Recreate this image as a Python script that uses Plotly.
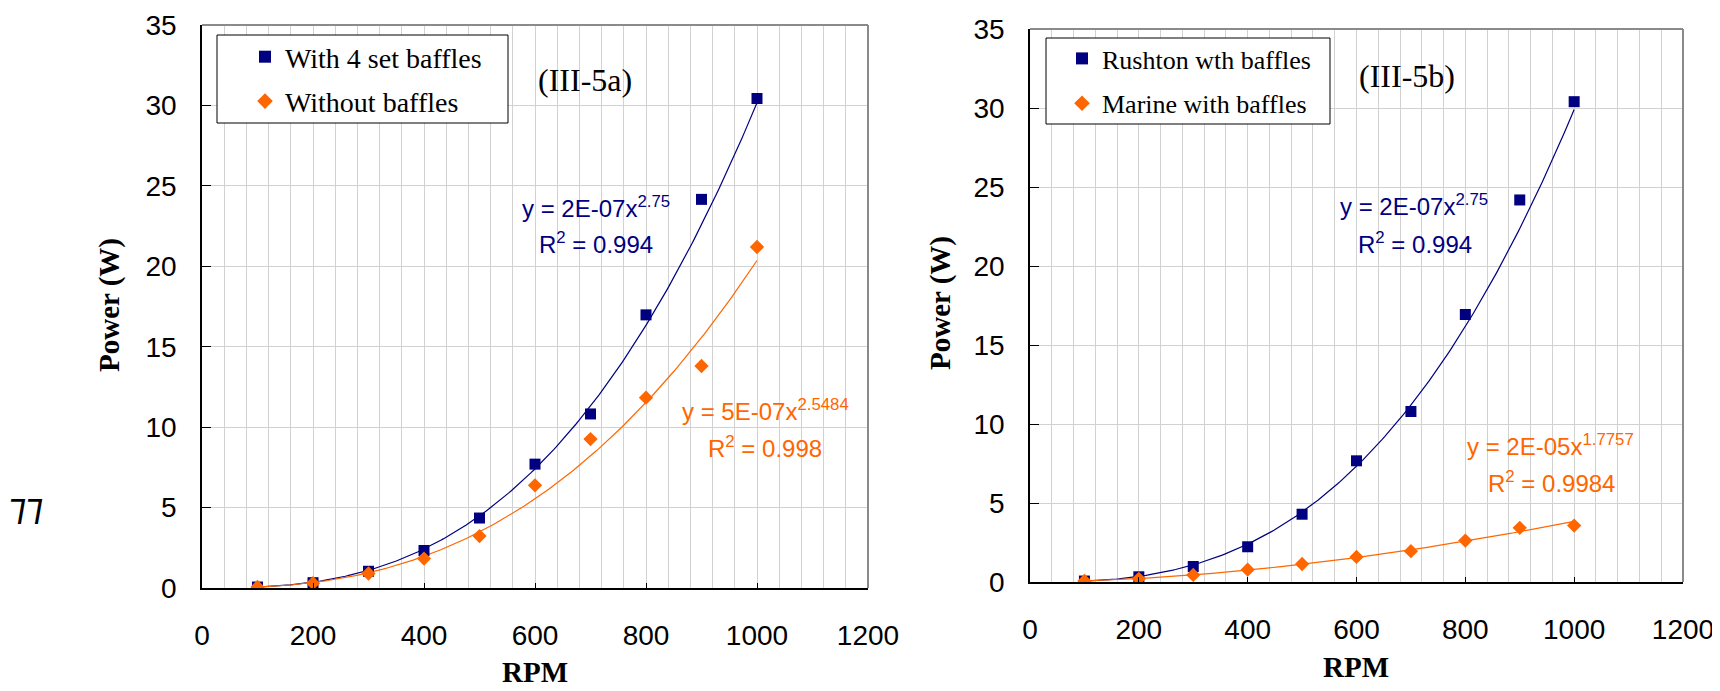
import numpy as np
import plotly.graph_objects as go

# page body adds an 8px offset; size the figure so it fills the 1720x691 window exactly
OFF = 8
FW, FH = 1720 - OFF, 691 - OFF

# ---------------- data ----------------
rpm = [100, 200, 300, 400, 500, 600, 700, 800, 900, 1000]

# panel (III-5a)
with_4_set_baffles = [0.06, 0.33, 1.04, 2.33, 4.35, 7.70, 10.82, 16.98, 24.16, 30.43]
without_baffles = [0.065, 0.30, 0.90, 1.83, 3.23, 6.38, 9.26, 11.83, 13.80, 21.20]

# panel (III-5b)
rushton_with_baffles = [0.06, 0.33, 0.98, 2.23, 4.29, 7.67, 10.79, 16.93, 24.18, 30.40]
marine_with_baffles = [0.067, 0.20, 0.45, 0.78, 1.14, 1.59, 1.95, 2.62, 3.43, 3.57]

names_a = ["With 4 set baffles", "Without baffles"]
names_b = ["Rushton wth baffles", "Marine with baffles"]
panel_labels = ["(III-5a)", "(III-5b)"]
eq_a = ["y = 2E-07x<sup>2.75</sup>", "y = 5E-07x<sup>2.5484</sup>"]
r2_a = ["R<sup>2</sup> = 0.994", "R<sup>2</sup> = 0.998"]
eq_b = ["y = 2E-07x<sup>2.75</sup>", "y = 2E-05x<sup>1.7757</sup>"]
r2_b = ["R<sup>2</sup> = 0.994", "R<sup>2</sup> = 0.9984"]

x_ticks = [0, 200, 400, 600, 800, 1000, 1200]
y_ticks = [0, 5, 10, 15, 20, 25, 30, 35]

NAVY = "#000080"
ORANGE = "#FF6600"
SANS = "Liberation Sans, Arial, sans-serif"
SERIF = "Liberation Serif, Times New Roman, serif"


def px(x):
    return (x - OFF) / FW


def py(y):
    return 1 - (y - OFF) / FH


def power_fit(x, y):
    b, ln_a = np.polyfit(np.log(x), np.log(y), 1)
    xs = np.linspace(min(x), max(x), 200)
    return xs, np.exp(ln_a) * xs ** b


fig = go.Figure()

# ---- panel a ----
for yvals, color in [(with_4_set_baffles, NAVY), (without_baffles, ORANGE)]:
    xs, ys = power_fit(rpm, yvals)
    fig.add_trace(go.Scatter(x=xs, y=ys, mode="lines", line=dict(color=color, width=1.2),
                             showlegend=False, hoverinfo="skip", xaxis="x", yaxis="y"))
fig.add_trace(go.Scatter(x=rpm, y=with_4_set_baffles, mode="markers", name=names_a[0],
                         marker=dict(symbol="square", size=11, color=NAVY),
                         xaxis="x", yaxis="y", legend="legend", legendgroup="a1"))
fig.add_trace(go.Scatter(x=rpm, y=without_baffles, mode="markers", name=names_a[1],
                         marker=dict(symbol="diamond", size=11, color=ORANGE),
                         xaxis="x", yaxis="y", legend="legend", legendgroup="a2"))

# ---- panel b ----
for yvals, color in [(rushton_with_baffles, NAVY), (marine_with_baffles, ORANGE)]:
    xs, ys = power_fit(rpm, yvals)
    fig.add_trace(go.Scatter(x=xs, y=ys, mode="lines", line=dict(color=color, width=1.2),
                             showlegend=False, hoverinfo="skip", xaxis="x2", yaxis="y2"))
fig.add_trace(go.Scatter(x=rpm, y=rushton_with_baffles, mode="markers", name=names_b[0],
                         marker=dict(symbol="square", size=11, color=NAVY),
                         xaxis="x2", yaxis="y2", legend="legend2", legendgroup="b1"))
fig.add_trace(go.Scatter(x=rpm, y=marine_with_baffles, mode="markers", name=names_b[1],
                         marker=dict(symbol="diamond", size=11, color=ORANGE),
                         xaxis="x2", yaxis="y2", legend="legend2", legendgroup="b2"))

GRID = "#d2d2d2"


def xaxis_cfg(domain, anchor):
    return dict(domain=domain, anchor=anchor, range=[0, 1200], tickvals=x_ticks,
                showgrid=True, gridcolor=GRID, gridwidth=1,
                minor=dict(dtick=40, tick0=0, showgrid=True, gridcolor=GRID, gridwidth=1),
                showline=True, linecolor="black", linewidth=1.5,
                ticks="inside", ticklen=5, tickcolor="black",
                tickfont=dict(family=SANS, size=28, color="black"),
                ticklabelstandoff=22, zeroline=False, fixedrange=True, automargin=False)


def yaxis_cfg(domain, anchor):
    return dict(domain=domain, anchor=anchor, range=[0, 35], tickvals=y_ticks,
                showgrid=True, gridcolor=GRID, gridwidth=1,
                showline=True, linecolor="black", linewidth=1.5,
                ticks="inside", ticklen=9, tickcolor="black",
                tickfont=dict(family=SANS, size=28, color="black"),
                ticklabelstandoff=18, zeroline=False, fixedrange=True, automargin=False)


xa_dom = [px(202), px(868)]
ya_dom = [py(588), py(25)]
xb_dom = [px(1030), px(1683)]
yb_dom = [py(582), py(29)]


def legend_cfg(x, y, size, gap):
    return dict(x=x, y=y, bgcolor="rgba(0,0,0,0)", borderwidth=0,
                font=dict(family=SERIF, size=size, color="black"),
                tracegroupgap=gap, xanchor="left", yanchor="top",
                itemsizing="constant")


fig.update_layout(
    width=FW, height=FH, margin=dict(l=0, r=0, t=0, b=0, pad=0, autoexpand=False),
    paper_bgcolor="white", plot_bgcolor="white",
    xaxis=xaxis_cfg(xa_dom, "y"), yaxis=yaxis_cfg(ya_dom, "x"),
    xaxis2=xaxis_cfg(xb_dom, "y2"), yaxis2=yaxis_cfg(yb_dom, "x2"),
    legend=legend_cfg(px(245), py(32), 28, 5),
    legend2=legend_cfg(px(1062), py(35), 26, 8),
    showlegend=True,
)

shapes = []
# top/right gray frame + legend boxes
for xr, yr in [("x domain", "y domain"), ("x2 domain", "y2 domain")]:
    shapes.append(dict(type="line", xref=xr, yref=yr, x0=0, x1=1, y0=1, y1=1,
                       line=dict(color="#8a8a8a", width=2), layer="above"))
    shapes.append(dict(type="line", xref=xr, yref=yr, x0=1, x1=1, y0=0, y1=1,
                       line=dict(color="#8a8a8a", width=2), layer="above"))
for (x0, y0, x1, y1) in [(217, 35, 508, 123), (1046, 38, 1330, 124)]:
    shapes.append(dict(type="rect", xref="paper", yref="paper",
                       x0=px(x0), x1=px(x1), y0=py(y1), y1=py(y0),
                       line=dict(color="black", width=1), fillcolor="white", layer="above"))
fig.update_layout(shapes=shapes)

ann = []


def text(x, y, t, family, size, color="black", angle=0, bold=False):
    ann.append(dict(x=px(x), y=py(y), xref="paper", yref="paper", text=("<b>%s</b>" % t) if bold else t,
                    showarrow=False, xanchor="center", yanchor="middle", textangle=angle,
                    font=dict(family=family, size=size, color=color)))


# axis titles
text(110, 305, "Power (W)", SERIF, 29, angle=-90, bold=True)
text(535, 672, "RPM", SERIF, 29, bold=True)
text(940, 303, "Power (W)", SERIF, 29, angle=-90, bold=True)
text(1356, 667, "RPM", SERIF, 29, bold=True)

# panel labels
text(585, 80, panel_labels[0], SERIF, 32)
text(1407, 76, panel_labels[1], SERIF, 32)

# equations
text(596, 207, eq_a[0], SANS, 24, NAVY)
text(596, 243, r2_a[0], SANS, 24, NAVY)
text(765, 410, eq_a[1], SANS, 24, ORANGE)
text(765, 447, r2_a[1], SANS, 24, ORANGE)
text(1414, 205, eq_b[0], SANS, 24, NAVY)
text(1415, 243, r2_b[0], SANS, 24, NAVY)
text(1550, 445, eq_b[1], SANS, 24, ORANGE)
text(1551, 482, r2_b[1], SANS, 24, ORANGE)

# stray mark at left margin
text(26, 511, "<i>LL</i>", "DejaVu Sans Condensed, Liberation Sans Narrow, sans-serif", 34, angle=180)

fig.update_layout(annotations=ann)

fig.write_html("out.html")
